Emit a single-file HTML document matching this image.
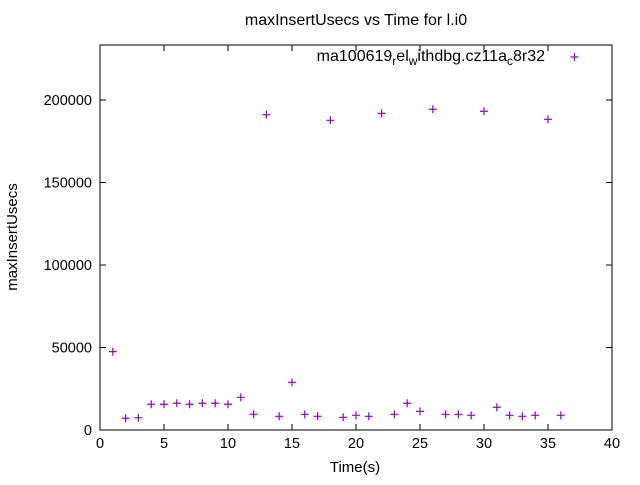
<!DOCTYPE html>
<html><head><meta charset="utf-8"><style>body{margin:0;background:#fff}svg{font-family:"Liberation Sans",sans-serif}</style></head>
<body>
<svg id="chart" width="640" height="480" xmlns="http://www.w3.org/2000/svg">
<rect width="640" height="480" fill="#fff"/>
<text x="356" y="25" font-size="16" text-anchor="middle">maxInsertUsecs vs Time for l.i0</text>
<text transform="translate(17,237) rotate(-90)" font-size="15" text-anchor="middle">maxInsertUsecs</text>
<text x="355" y="472" font-size="15" text-anchor="middle">Time(s)</text>
<g id="axes"></g>
<g id="points"></g>
<g>
<text x="545" y="61" font-size="16" text-anchor="end">ma100619<tspan font-size="12" dy="4">r</tspan><tspan dy="-4">el</tspan><tspan font-size="12" dy="4">w</tspan><tspan dy="-4">ithdbg.cz11a</tspan><tspan font-size="12" dy="4">c</tspan><tspan dy="-4">8r32</tspan></text>
<path d="M570.5,57h8M574.5,53v8" stroke="#9400d3" stroke-width="1.2"/>
</g>
</svg>
<script>
const xs = [1,2,3,4,5,6,7,8,9,10,11,12,13,14,15,16,17,18,19,20,21,22,23,24,25,26,27,28,29,30,31,32,33,34,35,36];
const ys = [47500,7100,7450,15600,15600,16200,15600,16200,16200,15600,19800,9500,191100,8300,28900,9500,8300,187700,7700,8900,8300,191900,9500,16200,11300,194400,9500,9500,8900,193200,13800,8900,8300,8900,188300,8900];
const xTicks = [0,5,10,15,20,25,30,35,40];
const yTicks = [0,50000,100000,150000,200000];
const L=100,R=612,T=45,B=430;
const sx=v=>L+(v-0)/(40-0)*(R-L);
const sy=v=>B-v/200000*330;
const NS="http://www.w3.org/2000/svg";
const ax=document.getElementById('axes');
function mk(tag,attrs,parent){const e=document.createElementNS(NS,tag);for(const k in attrs)e.setAttribute(k,attrs[k]);parent.appendChild(e);return e;}
const frame=mk('rect',{x:L,y:T,width:R-L,height:B-T,fill:'none',stroke:'#000','stroke-width':1},ax);


xTicks.forEach(t=>{const x=sx(t);
 const p=mk('path',{d:`M${x},${B}v-6M${x},${T}v6`,stroke:'#000'},ax);
 
 
 const tx=mk('text',{x:x,y:B+18,'font-size':14.5,'text-anchor':'middle'},ax);tx.textContent=t;
 
 
});
yTicks.forEach(t=>{const y=sy(t);
 const p=mk('path',{d:`M${L},${y}h6M${R},${y}h-6`,stroke:'#000'},ax);
 
 
 const tx=mk('text',{x:L-8,y:y+5,'font-size':14.5,'text-anchor':'end'},ax);tx.textContent=t;
 
 
});
const pts=document.getElementById('points');
xs.forEach((v,i)=>{const x=sx(v),y=sy(ys[i]);
 const p=mk('path',{d:`M${x-4},${y}h8M${x},${y-4}v8`,stroke:'#9400d3','stroke-width':1.2},pts);
 
 
});
</script>
</body></html>
